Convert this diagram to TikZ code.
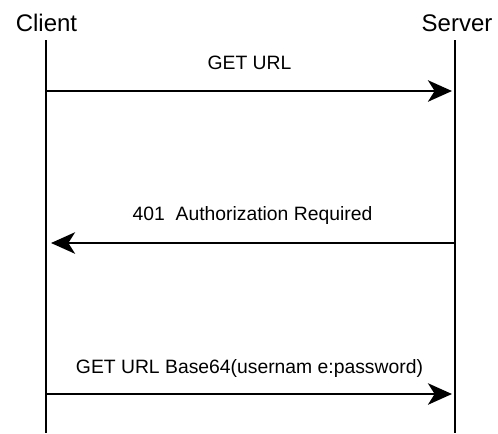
\documentclass[tikz,border=0pt]{standalone}
\usepackage{fontspec}
\setmainfont{Liberation Sans}
\usepackage{tikz}
\usetikzlibrary{arrows.meta,positioning}
\tikzstyle{actor}    = [inner sep=0pt, font=\fontsize{18}{20}\selectfont]
\tikzstyle{lifeline} = [line width=2.2pt]
\tikzstyle{msg}      = [line width=2.2pt, -{Stealth[length=18pt,width=16pt,inset=5pt]}]
\tikzstyle{msglabel} = [inner sep=0pt, font=\fontsize{14.5}{17}\selectfont]

\begin{document}
\begin{tikzpicture}[x=0.75pt,y=-0.75pt]
        \useasboundingbox (0,0) rectangle (498,433);
        \node[actor] (client) at (46.5,23) {Client};
        \node[actor] (server) at (457,23) {Server};

        % lifelines
        \coordinate (clientTop) at (46,40);
        \coordinate (clientBot) at (46,433);
        \coordinate (serverTop) at (455,40);
        \coordinate (serverBot) at (455,433);
        \draw[lifeline] (clientTop) -- (clientBot);
        \draw[lifeline] (serverTop) -- (serverBot);

        % message ends
        \coordinate (get1From) at (47,91);
        \coordinate (get1To)   at (452,91);
        \coordinate (authFrom) at (454,243);
        \coordinate (authTo)   at (51,243);
        \coordinate (get2From) at (47,394);
        \coordinate (get2To)   at (452,394);

        \draw[msg] (get1From) -- node[msglabel, yshift=21pt] (get1Label) {GET URL} (get1To);
        \draw[msg] (authFrom) -- node[msglabel, yshift=21pt] (authLabel) {401\ \ Authorization Required} (authTo);
        \draw[msg] (get2From) -- node[msglabel, yshift=19pt] (get2Label) {GET URL Base64(usernam e:password)} (get2To);
    \end{tikzpicture}
\end{document}
